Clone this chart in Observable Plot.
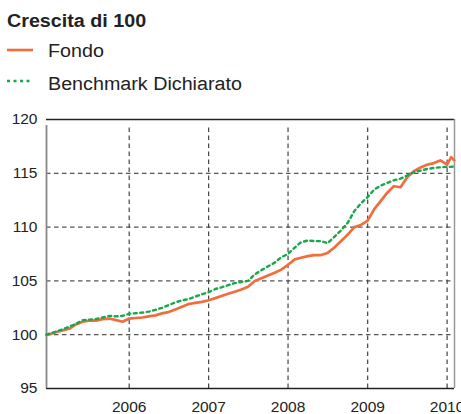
<!DOCTYPE html>
<html>
<head>
<meta charset="utf-8">
<script src="https://cdn.jsdelivr.net/npm/d3@7"></script>
<script src="https://cdn.jsdelivr.net/npm/@observablehq/plot@0.6"></script>
<style>
  html, body { margin: 0; padding: 0; background: #fff; }
  body { width: 461px; height: 414px; position: relative; overflow: hidden; font-family: "Liberation Sans", Arial, sans-serif; color: #222; }
  .t { position: absolute; white-space: nowrap; line-height: 18px; font-size: 18px; transform: scaleX(1.095); transform-origin: 0 50%; }
  #title { left: 7px; top: 12px; font-weight: bold; }
  #l1 { left: 48px; top: 42px; }
  #l2 { left: 48px; top: 75px; }
  .sw { position: absolute; left: 7px; width: 27px; height: 6px; }
  #chart { position: absolute; left: 0; top: 100px; }
</style>
</head>
<body>
<div id="title" class="t">Crescita di 100</div>
<svg class="sw" style="top:47px" width="27" height="6"><line x1="0" x2="26" y1="3" y2="3" stroke="#f26d3d" stroke-width="2.6"/></svg>
<div id="l1" class="t">Fondo</div>
<svg class="sw" style="top:78px" width="27" height="6"><line x1="0" x2="26" y1="3" y2="3" stroke="#17a84b" stroke-width="2.4" stroke-dasharray="3,3.5"/></svg>
<div id="l2" class="t">Benchmark Dichiarato</div>
<div id="chart"></div>
<script>
const seriesNames = ["Fondo", "Benchmark Dichiarato"];
const seriesColors = ["#f26d3d", "#17a84b"];

const dates = [
  "2004-12-17",
  "2005-01-01","2005-02-01","2005-03-01","2005-04-01","2005-05-01","2005-06-01",
  "2005-07-01","2005-08-01","2005-09-01","2005-10-01","2005-11-01","2005-12-01",
  "2006-01-01","2006-02-01","2006-03-01","2006-04-01","2006-05-01","2006-06-01",
  "2006-07-01","2006-08-01","2006-09-01","2006-10-01","2006-11-01","2006-12-01",
  "2007-01-01","2007-02-01","2007-03-01","2007-04-01","2007-05-01","2007-06-01",
  "2007-07-01","2007-08-01","2007-09-01","2007-10-01","2007-11-01","2007-12-01",
  "2008-01-01","2008-02-01","2008-03-01","2008-04-01","2008-05-01","2008-06-01",
  "2008-07-01","2008-08-01","2008-09-01","2008-10-01","2008-11-01","2008-12-01",
  "2009-01-01","2009-02-01","2009-03-01","2009-04-01","2009-05-01","2009-06-01",
  "2009-07-01","2009-08-01","2009-09-01","2009-10-01","2009-11-01","2009-12-01",
  "2010-01-01","2010-01-20","2010-02-03"
];

const fondo = [
  100.0,
  100.05,100.25,100.4,100.55,100.95,101.2,
  101.3,101.3,101.45,101.5,101.35,101.2,
  101.5,101.55,101.6,101.7,101.8,101.98,
  102.1,102.35,102.6,102.85,102.95,103.05,
  103.2,103.4,103.6,103.8,104.0,104.2,
  104.45,105.0,105.25,105.5,105.75,106.05,
  106.5,107.0,107.15,107.3,107.4,107.4,
  107.6,108.1,108.7,109.3,110.0,110.2,
  110.6,111.7,112.4,113.2,113.8,113.7,
  114.6,115.2,115.55,115.8,115.95,116.2,
  115.8,116.5,116.2
];

const benchmark = [
  100.0,
  100.1,100.3,100.5,100.75,101.0,101.35,
  101.4,101.45,101.6,101.75,101.7,101.75,
  101.95,102.0,102.05,102.15,102.3,102.5,
  102.75,103.0,103.2,103.3,103.55,103.75,
  103.95,104.25,104.4,104.6,104.8,104.9,
  105.0,105.6,106.0,106.35,106.7,107.2,
  107.5,108.1,108.6,108.75,108.7,108.7,
  108.5,109.1,109.7,110.4,111.5,112.2,
  112.8,113.5,113.85,114.1,114.35,114.5,
  114.8,115.1,115.25,115.4,115.5,115.55,
  115.6,115.6,115.65
];

const xDomain = ["2004-12-17", "2010-02-04"];
const yDomain = [95, 120];
const yTicks = [95, 100, 105, 110, 115, 120];
const yGrid = [100, 105, 110, 115];
const xTicks = ["2006-01-01", "2007-01-01", "2008-01-01", "2009-01-01", "2010-01-01"];
const xTickLabels = ["2006", "2007", "2008", "2009", "2010"];

const parse = d3.utcParse("%Y-%m-%d");
const rows = dates.map((d, i) => ({date: parse(d), value: fondo[i], series: seriesNames[0]}));
const rowsB = dates.map((d, i) => ({date: parse(d), value: benchmark[i], series: seriesNames[1]}));
const xT = xTicks.map(parse);
const xD = xDomain.map(parse);

const chart = Plot.plot({
  width: 461,
  height: 314,
  marginTop: 19,
  marginBottom: 26,
  marginLeft: 46,
  marginRight: 7,
  style: {fontFamily: "'Liberation Sans', Arial, sans-serif", fontSize: "15.5px", color: "#222", background: "transparent"},
  x: {type: "utc", domain: xD, label: null},
  y: {domain: yDomain, label: null},
  marks: [
    Plot.ruleY(yGrid, {stroke: "#555", strokeWidth: 1.2, strokeDasharray: "4.5,3.5"}),
    Plot.ruleX(xT, {y1: yDomain[0], y2: yDomain[1], stroke: "#444", strokeWidth: 1.2, strokeDasharray: "4.5,3.5", insetBottom: -6}),
    Plot.ruleY([yDomain[1]], {stroke: "#222", strokeWidth: 1.3}),
    Plot.ruleY([yDomain[0]], {stroke: "#222", strokeWidth: 1.3}),
    Plot.ruleX([xD[0]], {y1: yDomain[0], y2: yDomain[1], stroke: "#888", strokeWidth: 1.8, insetBottom: -6}),
    Plot.ruleX([xD[1]], {y1: yDomain[0], y2: yDomain[1], stroke: "#999", strokeWidth: 1.5}),
    Plot.line(rows, {x: "date", y: "value", stroke: seriesColors[0], strokeWidth: 2.7}),
    Plot.line(rowsB, {x: "date", y: "value", stroke: seriesColors[1], strokeWidth: 2.4, strokeDasharray: "3,3.5"}),
    Plot.axisY(yTicks, {tickSize: 0, tickPadding: 9, fill: "#222", label: null}),
    Plot.axisX(xT, {tickSize: 0, tickPadding: 12, tickFormat: (d, i) => xTickLabels[i], fill: "#222", label: null})
  ]
});
document.getElementById("chart").appendChild(chart);
</script>
</body>
</html>
